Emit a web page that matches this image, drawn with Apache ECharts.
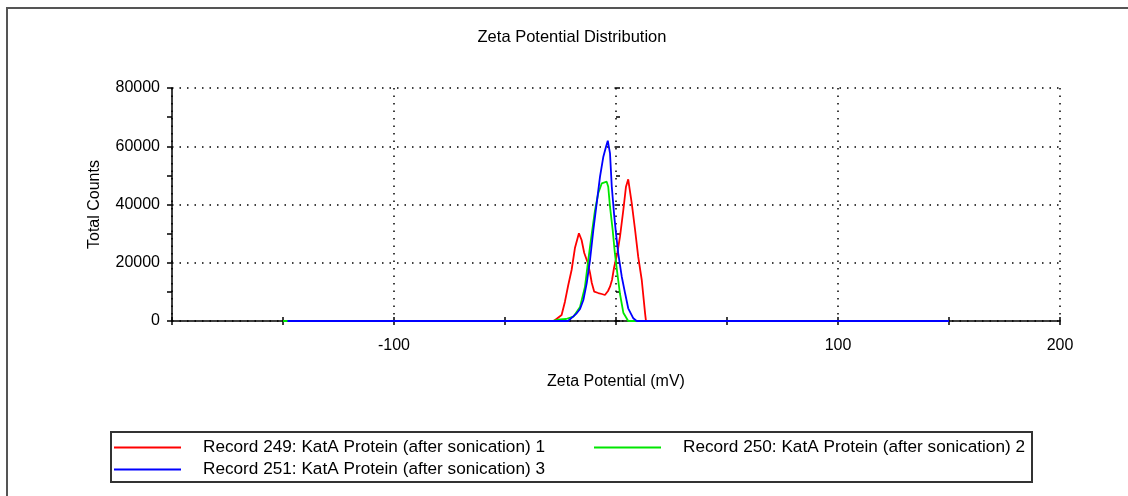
<!DOCTYPE html>
<html>
<head>
<meta charset="utf-8">
<script src="https://cdn.jsdelivr.net/npm/echarts@6/dist/echarts.min.js"></script>
<style>html,body{margin:0;padding:0;background:#fff}#c{width:1128px;height:496px}</style>
</head>
<body>
<div id="c"></div>
<script>
var titleText = 'Zeta Potential Distribution';
var xName = 'Zeta Potential (mV)';
var yName = 'Total Counts';
var xTickLabels = {'-100': '-100', '100': '100', '200': '200'};
var seriesNames = [
  'Record 249: KatA Protein (after sonication) 1',
  'Record 250: KatA Protein (after sonication) 2',
  'Record 251: KatA Protein (after sonication) 3'
];
var seriesColors = ['#ff0000', '#00e600', '#0000ff'];

var record249 = [
  [-150,0],[-28,0],[-24.5,2060],[-23,6630],[-21.5,12360],[-20,17510],[-18.5,25060],
  [-16.7,30110],[-15.5,27810],[-14.3,23350],[-12.7,19910],[-11.7,16480],[-10.9,13050],
  [-9.8,10060],[-8,9610],[-6.4,9270],[-5,8930],[-3.6,10300],[-2.7,11780],[-1.8,14080],
  [-0.9,18200],[0.6,23350],[1.8,28940],[3.3,38110],[4.5,46110],[5.5,48650],[7.1,40410],
  [8.6,31240],[10,22080],[11.6,14080],[13.1,2640],[13.5,0],[150,0]
];
var record250 = [
  [-150,0],[-28.4,0],[-25.2,580],[-22.5,690],[-19.2,1480],[-16.2,4810],[-14,11670],
  [-12.5,20940],[-10.9,30110],[-9.5,37770],[-8,43850],[-6.4,47280],[-4.2,47830],
  [-3.5,46110],[-2.7,39240],[-1.5,31240],[-0.5,23240],[0.6,16380],[1.8,9270],
  [3.3,2850],[5.5,0],[150,0]
];
var record251 = [
  [-148,0],[-21.6,0],[-20.7,340],[-17.7,2640],[-16.2,4120],[-14.7,7210],[-13.2,12940],
  [-11.7,20940],[-10.2,31240],[-8.7,40410],[-7.2,49550],[-5.7,56410],[-4.5,59840],
  [-3.7,61900],[-2.7,57580],[-1.9,46110],[-0.9,36980],[0,30110],[1,23240],[2.6,15210],
  [4.1,9510],[5.5,4360],[7.8,930],[9.3,0],[150,0]
];
var seriesData = [record249, record250, record251];

var font = 'Liberation Sans, Arial, sans-serif';
var chart = echarts.init(document.getElementById('c'), null, {renderer: 'canvas'});

var series = seriesNames.map(function (n, i) {
  return {
    name: n, type: 'line', data: seriesData[i], symbol: 'none', showSymbol: false,
    xAxisIndex: 0, yAxisIndex: 0, animation: false,
    lineStyle: {color: seriesColors[i], width: 1.8}, itemStyle: {color: seriesColors[i]}
  };
});

var legendBase = {
  top: 439, padding: 0, itemGap: 5, icon: 'rect', itemWidth: 67, itemHeight: 2,
  orient: 'vertical', selectedMode: false,
  textStyle: {fontFamily: font, fontSize: 17.2, color: '#000', padding: [0, 0, 0, 17]}
};

chart.setOption({
  animation: false,
  backgroundColor: '#fff',
  title: {
    text: titleText, left: 572, top: 29, textAlign: 'center', padding: 0,
    textStyle: {fontFamily: font, fontSize: 16.5, fontWeight: 'normal', color: '#000'}
  },
  grid: {left: 172, right: 68, top: 88, bottom: 175, containLabel: false},
  legend: [
    Object.assign({}, legendBase, {left: 114, data: [seriesNames[0], seriesNames[2]]}),
    Object.assign({}, legendBase, {left: 594, data: [seriesNames[1]]})
  ],
  xAxis: [{
    type: 'value', min: -200, max: 200, interval: 100, position: 'bottom',
    name: xName, nameLocation: 'middle', nameGap: 53,
    nameTextStyle: {fontFamily: font, fontSize: 16, color: '#000'},
    axisLine: {show: true, onZero: false, lineStyle: {color: '#000', width: 1.5}},
    axisTick: {show: true, inside: false, length: 4, lineStyle: {color: '#000', width: 1.5}},
    minorTick: {show: true, splitNumber: 2, length: 4, lineStyle: {color: '#000', width: 1.5}},
    axisLabel: {fontFamily: font, fontSize: 16, color: '#000', margin: 17,
      formatter: function (v) { return xTickLabels[String(v)] || ''; }},
    splitLine: {show: true, lineStyle: {color: '#000', type: [1.5, 6], width: 1.5}}
  }, {
    type: 'value', min: -200, max: 200, interval: 100, position: 'bottom',
    axisLine: {show: false}, axisLabel: {show: false}, splitLine: {show: false},
    axisTick: {show: true, inside: true, length: 4, lineStyle: {color: '#000', width: 1.5}},
    minorTick: {show: true, splitNumber: 2, length: 4, lineStyle: {color: '#000', width: 1.5}}
  }],
  yAxis: [{
    type: 'value', min: 0, max: 80000, interval: 20000, position: 'left',
    name: yName, nameLocation: 'middle', nameGap: 69, nameRotate: 90,
    nameTextStyle: {fontFamily: font, fontSize: 16, color: '#000'},
    axisLine: {show: true, onZero: false, lineStyle: {color: '#000', width: 1.5}},
    axisTick: {show: true, inside: false, length: 5, lineStyle: {color: '#000', width: 1.5}},
    minorTick: {show: true, splitNumber: 2, length: 5, lineStyle: {color: '#000', width: 1.5}},
    axisLabel: {fontFamily: font, fontSize: 16, color: '#000', margin: 12,
      formatter: function (v) { return String(v); }},
    splitLine: {show: true, lineStyle: {color: '#000', type: [1.5, 6], width: 1.5}}
  }, {
    type: 'value', min: 0, max: 80000, interval: 20000, position: 'left',
    axisLine: {show: false}, axisLabel: {show: false}, splitLine: {show: false},
    axisTick: {show: true, inside: true, length: 4, lineStyle: {color: '#000', width: 1.5}},
    minorTick: {show: true, splitNumber: 2, length: 4, lineStyle: {color: '#000', width: 1.5}}
  }],
  graphic: [
    {type: 'rect', shape: {x: 7, y: 8, width: 1200, height: 600}, silent: true,
     style: {fill: 'none', stroke: '#555', lineWidth: 2}, z: -1},
    {type: 'rect', shape: {x: 111, y: 432, width: 921, height: 50}, silent: true,
     style: {fill: 'none', stroke: '#333', lineWidth: 2}, z: -1}
  ],
  series: series
});
</script>
</body>
</html>
